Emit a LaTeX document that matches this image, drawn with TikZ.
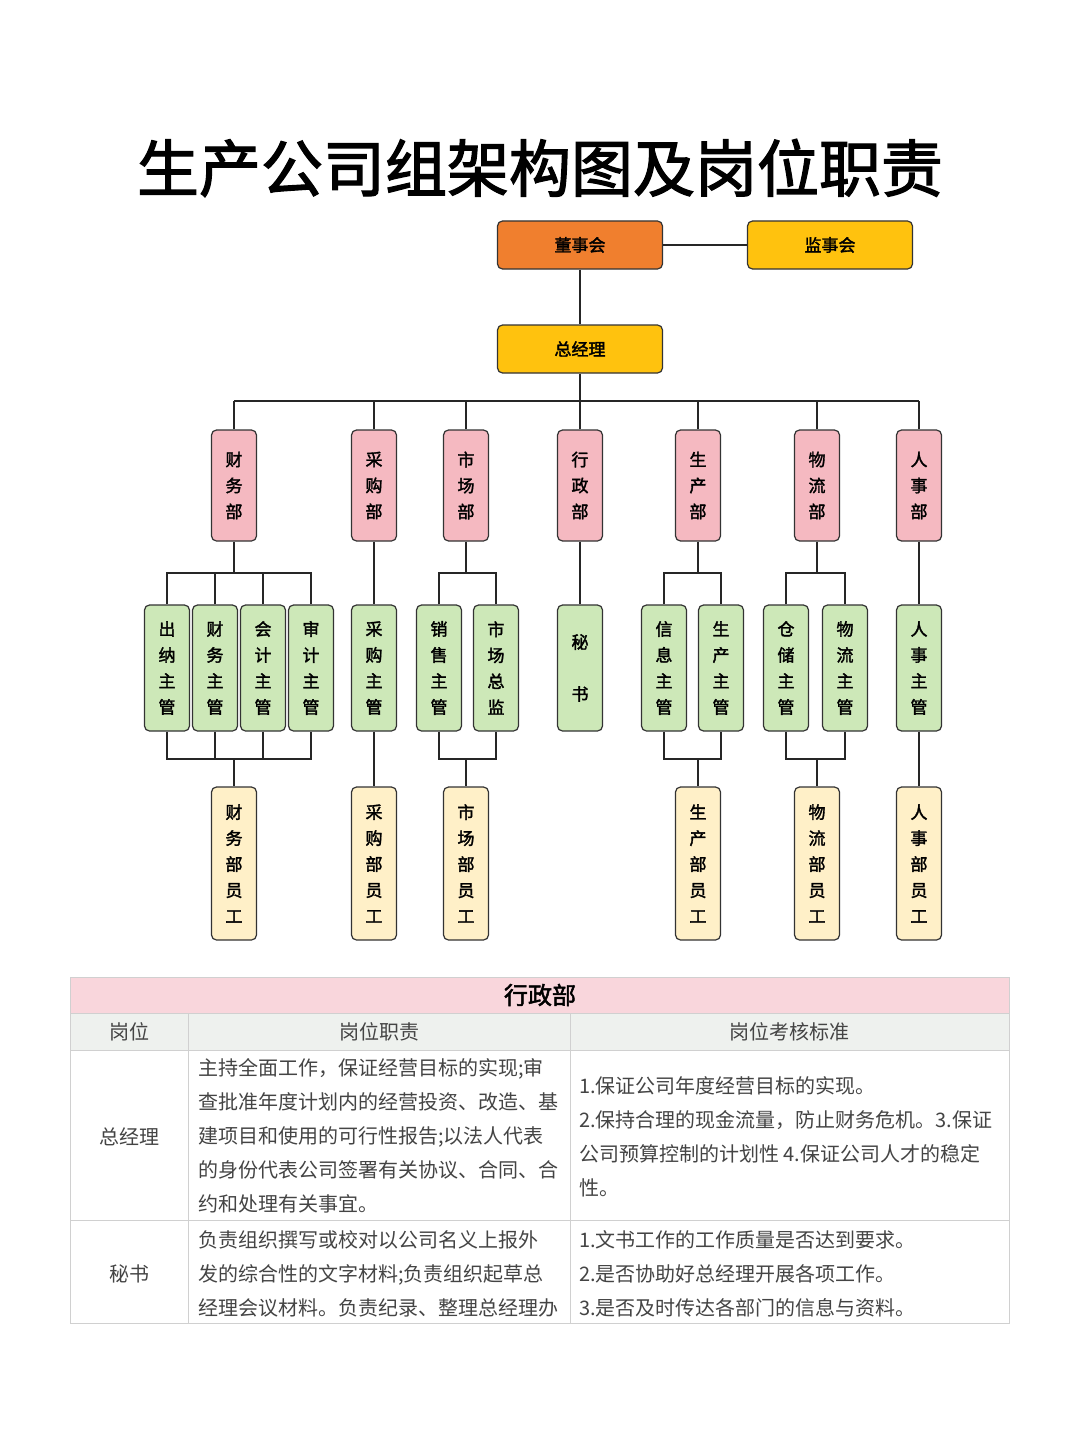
\documentclass[tikz,border=0pt]{standalone}
\usepackage{fontspec}
\newfontfamily\cjk{Noto Sans CJK SC}
\newfontfamily\cjkb{Noto Sans CJK SC}[FakeBold=2]
\definecolor{orng}{HTML}{F07F2E}
\definecolor{yel}{HTML}{FFC20E}
\definecolor{pnk}{HTML}{F5B9C1}
\definecolor{grn}{HTML}{CDE8B8}
\definecolor{lyel}{HTML}{FFF0C8}
\definecolor{tpink}{HTML}{F9D6DC}
\definecolor{thead}{HTML}{EEF1EE}
\definecolor{tline}{HTML}{D0D0D0}
\definecolor{txt}{HTML}{444444}
\begin{document}
\begin{tikzpicture}[x=1pt,y=-1pt,
  box/.style={draw=black!80,line width=1.2pt,rounded corners=5pt,font=\cjkb\fontsize{17}{26}\selectfont,align=center,inner sep=0pt},
  topbox/.style={box,minimum width=165pt,minimum height=48pt},
  dept/.style={box,fill=pnk,minimum width=45pt,minimum height=111pt},
  sub/.style={box,fill=grn,minimum width=45pt,minimum height=126pt},
  staff/.style={box,fill=lyel,minimum width=45pt,minimum height=153pt},
  ln/.style={draw=black!85,line width=1.2pt},
  cell/.style={font=\cjk\fontsize{20}{34}\selectfont,text=txt,align=left,anchor=west,inner sep=0pt}]
\useasboundingbox (0,0) rectangle (1080,1439);
\fill[white] (0,0) rectangle (1080,1439);
\node[font=\cjkb\fontsize{62}{70}\selectfont] (title) at (540,168) {生产公司组架构图及岗位职责};
% top
\node[topbox,fill=orng] (dsh) at (580,245) {董事会};
\node[topbox,fill=yel] (jsh) at (830,245) {监事会};
\node[topbox,fill=yel] (zjl) at (580,349) {总经理};
\draw[ln] (dsh) -- (jsh);
\draw[ln] (dsh) -- (zjl);
\coordinate (bus) at (580,401);
\draw[ln] (zjl.south) -- (bus);
% depts
\foreach \n/\x/\t in {cw/234/财\\务\\部, cg/374/采\\购\\部, sc/466/市\\场\\部, xz/580/行\\政\\部, scb/698/生\\产\\部, wl/817/物\\流\\部, rs/919/人\\事\\部}{
  \node[dept] (\n) at (\x,485.5) {\t};
  \draw[ln] (\n.north) -- (\x,401);
}
\draw[ln] (cw.north |- bus) -- (rs.north |- bus);
% subs
\foreach \n/\x/\t in {a1/167/出\\纳\\主\\管, a2/215/财\\务\\主\\管, a3/263/会\\计\\主\\管, a4/311/审\\计\\主\\管, b1/374/采\\购\\主\\管, c1/439/销\\售\\主\\管, c2/496/市\\场\\总\\监, e1/664/信\\息\\主\\管, e2/721/生\\产\\主\\管, f1/786/仓\\储\\主\\管, f2/845/物\\流\\主\\管, g1/919/人\\事\\主\\管}{
  \node[sub] (\n) at (\x,668) {\t};
}
\node[sub,font=\cjkb\fontsize{17}{52}\selectfont] (d1) at (580,668) {秘\\书};
% staff
\node[staff] (s1) at (234,863.5) {财\\务\\部\\员\\工};
\node[staff] (s2) at (374,863.5) {采\\购\\部\\员\\工};
\node[staff] (s3) at (466,863.5) {市\\场\\部\\员\\工};
\node[staff] (s5) at (698,863.5) {生\\产\\部\\员\\工};
\node[staff] (s6) at (817,863.5) {物\\流\\部\\员\\工};
\node[staff] (s7) at (919,863.5) {人\\事\\部\\员\\工};
% connectors
\draw[ln] (cw.south) -- (234,573);
\draw[ln] (a1.north) |- (a4.north |- 0,573) -- (a4.north);
\draw[ln] (a2.north) -- (215,573); \draw[ln] (a3.north) -- (263,573);
\draw[ln] (a1.south) |- (a4.south |- 0,759) -- (a4.south);
\draw[ln] (a2.south) -- (215,759); \draw[ln] (a3.south) -- (263,759);
\draw[ln] (234,759) -- (s1.north);
\draw[ln] (cg) -- (b1); \draw[ln] (b1) -- (s2);
\draw[ln] (sc.south) -- (466,573);
\draw[ln] (c1.north) |- (c2.north |- 0,573) -- (c2.north);
\draw[ln] (c1.south) |- (c2.south |- 0,759) -- (c2.south);
\draw[ln] (466,759) -- (s3.north);
\draw[ln] (xz) -- (d1);
\draw[ln] (scb.south) -- (698,573);
\draw[ln] (e1.north) |- (e2.north |- 0,573) -- (e2.north);
\draw[ln] (e1.south) |- (e2.south |- 0,759) -- (e2.south);
\draw[ln] (698,759) -- (s5.north);
\draw[ln] (wl.south) -- (817,573);
\draw[ln] (f1.north) |- (f2.north |- 0,573) -- (f2.north);
\draw[ln] (f1.south) |- (f2.south |- 0,759) -- (f2.south);
\draw[ln] (817,759) -- (s6.north);
\draw[ln] (rs) -- (g1); \draw[ln] (g1) -- (s7);
% table
\fill[tpink] (70,977) rectangle (1009,1013);
\fill[thead] (70,1013) rectangle (1009,1050);
\draw[tline,line width=0.8pt] (70,977) rectangle (1009,1323);
\draw[tline,line width=0.8pt] (70,1013) -- (1009,1013) (70,1050) -- (1009,1050) (70,1220) -- (1009,1220);
\draw[tline,line width=0.8pt] (188,1013) -- (188,1323) (570,1013) -- (570,1323);
\node[font=\cjkb\fontsize{24}{28}\selectfont] (th) at (540,995) {行政部};
\node[cell,anchor=center] (h1) at (129,1032) {岗位};
\node[cell,anchor=center] (h2) at (379,1032) {岗位职责};
\node[cell,anchor=center] (h3) at (789,1032) {岗位考核标准};
\node[cell,anchor=center] (r1) at (129,1137) {总经理};
\node[cell,anchor=center] (r2) at (129,1274) {秘书};
\node[cell] (t1) at (198,1136) {主持全面工作，保证经营目标的实现;审\\查批准年度计划内的经营投资、改造、基\\建项目和使用的可行性报告;以法人代表\\的身份代表公司签署有关协议、合同、合\\约和处理有关事宜。};
\node[cell] (t2) at (579,1137) {1.保证公司年度经营目标的实现。\\2.保持合理的现金流量，防止财务危机。3.保证\\公司预算控制的计划性 4.保证公司人才的稳定\\性。};
\begin{scope}
\clip (70,1220) rectangle (1009,1323);
\node[cell] (t3) at (198,1274) {负责组织撰写或校对以公司名义上报外\\发的综合性的文字材料;负责组织起草总\\经理会议材料。负责纪录、整理总经理办};
\end{scope}
\node[cell] (t4) at (579,1274) {1.文书工作的工作质量是否达到要求。\\2.是否协助好总经理开展各项工作。\\3.是否及时传达各部门的信息与资料。};
\end{tikzpicture}
\end{document}
